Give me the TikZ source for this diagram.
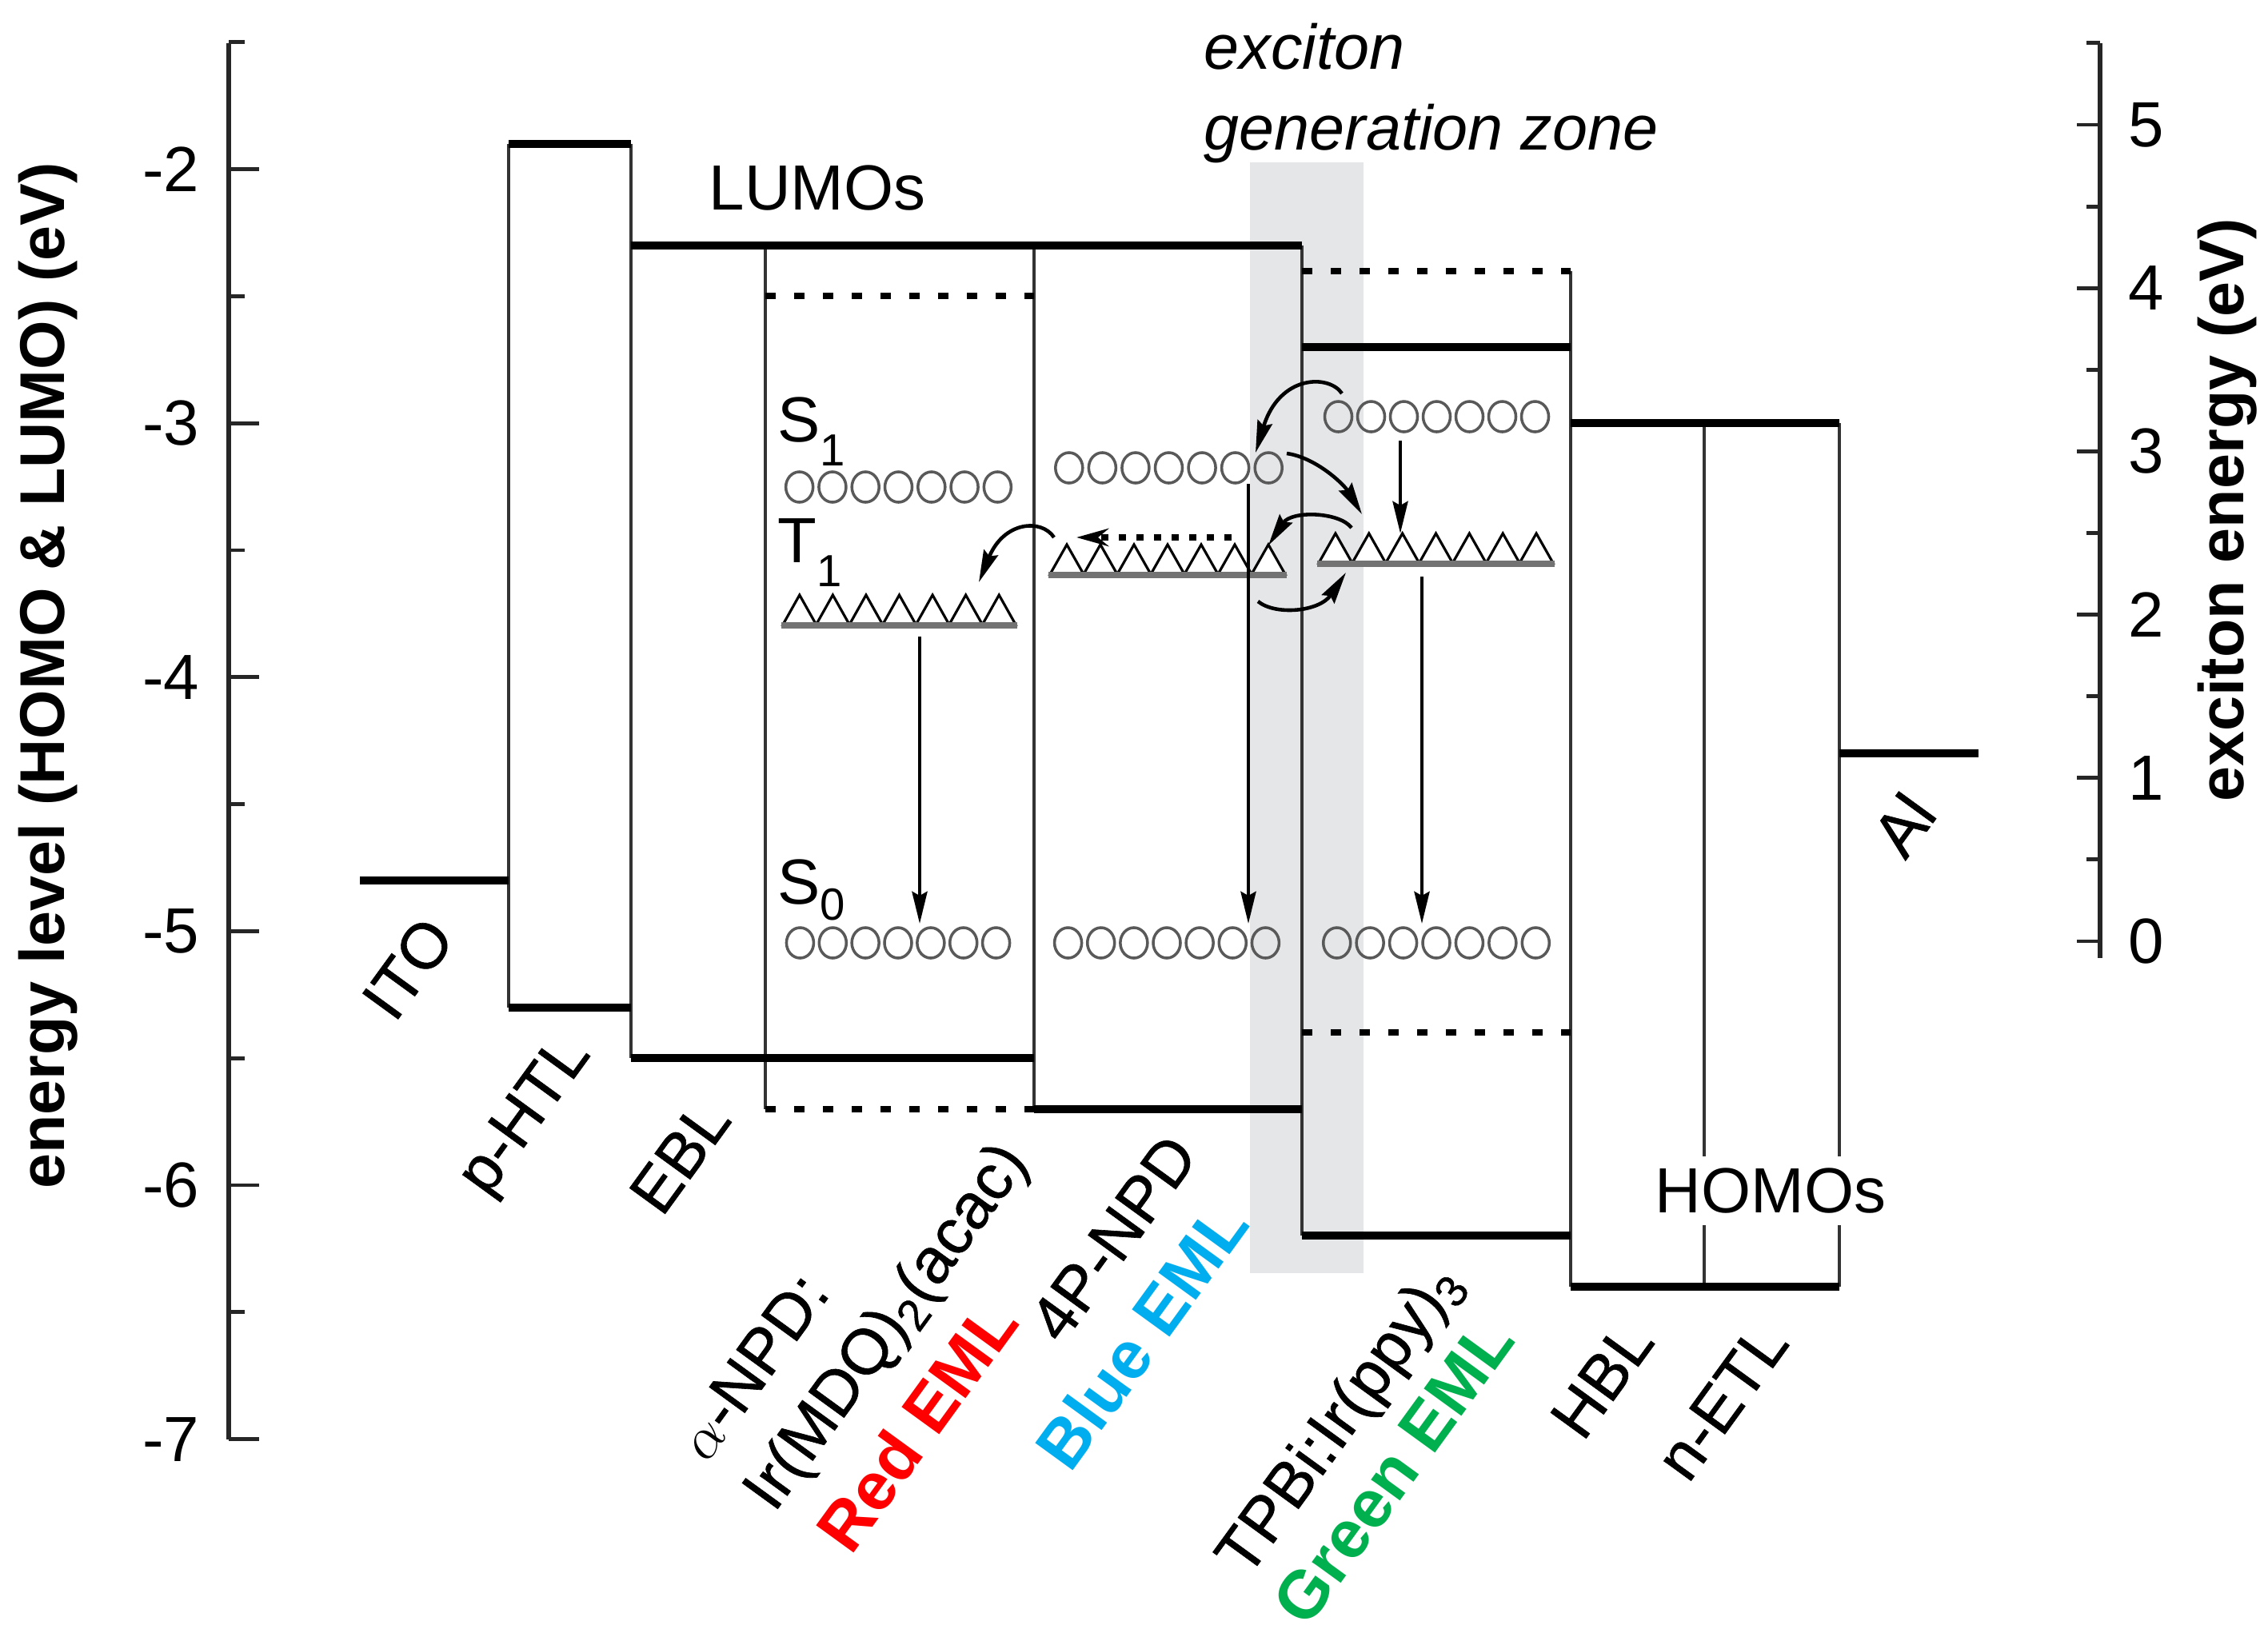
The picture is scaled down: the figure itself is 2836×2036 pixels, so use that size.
\documentclass[tikz,border=0pt]{standalone}
\usepackage{fontspec}
\setmainfont{Liberation Sans}
\newfontfamily\medfont{Liberation Sans}[FakeBold=0.8]
\usetikzlibrary{arrows.meta}
\definecolor{zonegray}{HTML}{E5E6E8}
\definecolor{redeml}{HTML}{FF0000}
\definecolor{blueeml}{HTML}{00AEEF}
\definecolor{greeneml}{HTML}{00B04F}
\newcommand\circrow[3]{%
  \pgfmathsetmacro\crp{(#2-#1)/7}%
  \foreach \i in {0,...,6}{\draw[circ] ({#1+\crp*(\i+0.5)},#3) ellipse [x radius=0.17cm, y radius=0.19cm];}%
}
\newcommand\trirow[3]{%
  \pgfmathsetmacro\trp{(#2-#1)/7}%
  \foreach \i in {0,...,6}{\draw[tri] ({#1+\trp*\i},#3) -- ({#1+\trp*(\i+0.5)},{#3-37}) -- ({#1+\trp*(\i+1)},#3) -- cycle;}%
  \draw[tribase] ({#1-2},{#3+1}) -- ({#2+2},{#3+1});%
}
\begin{document}
\begin{tikzpicture}[x=0.01cm,y=-0.01cm,
  lvl/.style={line width=2.6pt, line cap=butt},
  dlvl/.style={line width=2.5pt, dash pattern=on 0.13cm off 0.23cm},
  vln/.style={line width=1.4pt, black!80},
  ax/.style={line width=1.9pt, black!85},
  tck/.style={line width=1.4pt, black!85},
  lab/.style={font=\fontsize{22.7}{27}\selectfont, inner sep=0pt},
  rlab/.style={font=\medfont\fontsize{22.7}{27}\selectfont, inner sep=0pt, rotate=54},
  blab/.style={font=\bfseries\fontsize{24}{28}\selectfont, inner sep=0pt, rotate=54},
  ttl/.style={font=\bfseries\fontsize{22.5}{26}\selectfont, inner sep=0pt, rotate=90},
  arr/.style={line width=1.3pt, -{Stealth[length=0.4cm,width=0.19cm,inset=0.05cm]}},
  circ/.style={draw=black!65, line width=1pt},
  tri/.style={draw=black, line width=0.9pt, fill=white, line join=miter},
  tribase/.style={draw=black!55, line width=2.2pt},
  dotarr/.style={line width=2.2pt, dash pattern=on 0.09cm off 0.13cm, -{Stealth[length=0.4cm,width=0.22cm]}},
]
\useasboundingbox (0,0) rectangle (2836,2036);

% exciton generation zone
\fill[zonegray] (1563,203) rectangle (1705,1592);
\node[lab, font=\itshape\fontsize{22.5}{27}\selectfont, anchor=base west] (exc1) at (1505,87) {exciton};
\node[lab, font=\itshape\fontsize{22.5}{27}\selectfont, anchor=base west] (exc2) at (1505,187) {generation zone};

% left axis
\draw[ax] (286,54) -- (286,1800);
\foreach \k in {0,...,11}{
  \pgfmathsetmacro\ty{211.6+(0.5*\k-0.5)*317.6}
  \pgfmathtruncatemacro\odd{mod(\k,2)}
  \ifnum\odd=1 \draw[tck] (286,\ty) -- (324,\ty); \else \draw[tck] (286,\ty) -- (306,\ty); \fi
}
\foreach \v in {2,...,7}{\node[lab, anchor=east] (yl\v) at (250,{211.6+(\v-2)*317.6}) {-\v};}
\node[ttl] (ytitle) at (60,845) {energy level (HOMO \& LUMO) (eV)};

% right axis
\draw[ax] (2626,54) -- (2626,1198);
\foreach \k in {0,...,11}{
  \pgfmathsetmacro\ty{1177-102.1*\k}
  \pgfmathtruncatemacro\odd{mod(\k,2)}
  \ifnum\odd=0 \draw[tck] (2626,\ty) -- (2597,\ty); \else \draw[tck] (2626,\ty) -- (2609,\ty); \fi
}
\foreach \v in {0,...,5}{\node[lab] (yr\v) at (2684,{1177-204.2*\v}) {\v};}
\node[ttl] (rtitle) at (2785,638) {exciton energy (eV)};

% thin verticals
\draw[vln] (636,180) -- (636,1260);
\draw[vln] (789,180) -- (789,1323);
\draw[vln] (957,307) -- (957,1387);
\draw[vln] (1293,307) -- (1293,1387);
\draw[vln] (1628,307) -- (1628,1545);
\draw[vln] (1964,339) -- (1964,1609);
\draw[vln] (2131,529) -- (2131,1609);
\draw[vln] (2300,529) -- (2300,1609);

% levels
\draw[lvl] (450,1101) -- (636,1101);
\draw[lvl] (636,180) -- (789,180);
\draw[lvl] (636,1260) -- (789,1260);
\draw[lvl] (789,307) -- (1628,307);
\draw[lvl] (789,1323) -- (1293,1323);
\draw[lvl] (1293,1387) -- (1628,1387);
\draw[lvl] (1628,434) -- (1964,434);
\draw[lvl] (1628,1545) -- (1964,1545);
\draw[lvl] (1964,529) -- (2300,529);
\draw[lvl] (1964,1609) -- (2300,1609);
\draw[lvl] (2300,942) -- (2474,942);
\draw[dlvl] (957,370) -- (1293,370);
\draw[dlvl] (957,1387) -- (1293,1387);
\draw[dlvl] (1628,339) -- (1964,339);
\draw[dlvl] (1628,1291) -- (1964,1291);

\node[lab] (lumos) at (1022,235) {LUMOs};
\node[lab, fill=white, inner xsep=3pt, inner ysep=0.15cm] (homos) at (2214,1489) {HOMOs};

% states
\circrow{979}{1268}{609}
\circrow{1316}{1607}{585}
\circrow{1653}{1940}{521}
\circrow{980}{1266}{1179}
\circrow{1315}{1603}{1179}
\circrow{1651}{1941}{1179}
\trirow{979}{1270}{781}
\trirow{1313}{1607}{718}
\trirow{1649}{1942}{704}

\node[lab, anchor=base west] (s1) at (972,552) {S\raisebox{-0.3cm}{\fontsize{16}{16}\selectfont 1}};
\node[lab, anchor=base west] (t1) at (972,703) {T\raisebox{-0.3cm}{\fontsize{16}{16}\selectfont 1}};
\node[lab, anchor=base west] (s0) at (972,1130) {S\raisebox{-0.2cm}{\fontsize{16}{16}\selectfont 0}};

% vertical transitions
\coordinate (rT1) at (1150,796);  \coordinate (rS0) at (1150,1155);
\coordinate (bS1) at (1561,605);  \coordinate (bS0) at (1561,1155);
\coordinate (gS1) at (1751,551);  \coordinate (gT1a) at (1751,667);
\coordinate (gT1) at (1778,721);  \coordinate (gS0) at (1778,1155);
\draw[arr] (rT1) -- (rS0);
\draw[arr] (bS1) -- (bS0);
\draw[arr] (gS1) -- (gT1a);
\draw[arr] (gT1) -- (gS0);

% energy transfer arcs
\coordinate (aS) at (1678,492); \coordinate (aE) at (1570,566);
\coordinate (bbS) at (1609,567); \coordinate (bbE) at (1703,643);
\coordinate (cS) at (1690,660); \coordinate (cE) at (1586,682);
\coordinate (dS) at (1573,752); \coordinate (dE) at (1683,716);
\coordinate (eS) at (1318,672); \coordinate (eE) at (1224,728);
\draw[arr] (aS) .. controls (1662,468) and (1600,468) .. (aE);
\draw[arr] (bbS) .. controls (1645,572) and (1680,605) .. (bbE);
\draw[arr] (cS) .. controls (1675,640) and (1615,638) .. (cE);
\draw[arr] (dS) .. controls (1595,770) and (1650,765) .. (dE);
\draw[arr] (eS) .. controls (1302,648) and (1255,652) .. (eE);
\coordinate (fS) at (1540,672); \coordinate (fE) at (1346,672);
\draw[dotarr] (fS) -- (fE);

% layer labels
\node[rlab] (ito) at (510,1211) {ITO};
\node[rlab] (phtl) at (659,1397) {p-HTL};
\node[rlab] (ebl) at (850,1446) {EBL};
\node[rlab] (anpd) at (940,1708) {$\alpha$-NPD:};
\node[rlab] (irmdq) at (1111,1661) {Ir(MDQ)\textsubscript{2}(acac)};
\node[blab, text=redeml] (red) at (1146,1783) {Red EML};
\node[rlab] (fpnpd) at (1392,1548) {4P-NPD};
\node[blab, text=blueeml] (blue) at (1427,1670) {Blue EML};
\node[rlab] (tpbi) at (1678,1777) {TPBi:Ir(ppy)\textsubscript{3}};
\node[blab, text=greeneml] (green) at (1742,1840) {Green EML};
\node[rlab] (hbl) at (2003,1725) {HBL};
\node[rlab] (netl) at (2153,1752) {n-ETL};
\node[rlab] (al) at (2380,1031) {Al};
\end{tikzpicture}
\end{document}
